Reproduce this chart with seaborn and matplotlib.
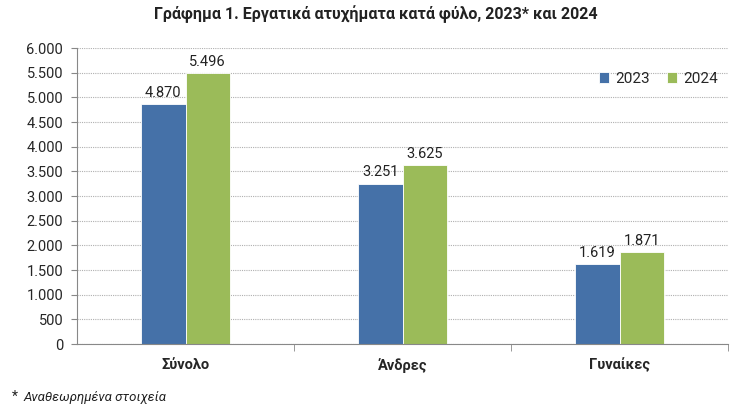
import matplotlib
matplotlib.use("Agg")
import matplotlib.pyplot as plt
import seaborn as sns
import pandas as pd
from matplotlib.ticker import FuncFormatter, FixedLocator

categories = ["Σύνολο", "Άνδρες", "Γυναίκες"]
years = ["2023", "2024"]
values_2023 = [4870, 3251, 1619]
values_2024 = [5496, 3625, 1871]
colors = ["#4571a8", "#9bbb59"]

df = pd.DataFrame({
    "cat": categories * 2,
    "year": [years[0]] * 3 + [years[1]] * 3,
    "val": values_2023 + values_2024,
})

sns.set_style("white")
plt.rcParams["font.family"] = ["Roboto", "DejaVu Sans"]

fig = plt.figure(figsize=(7.52, 4.12), dpi=100)
ax = fig.add_axes([77/752, 1 - 344/412, 651/752, 296/412])

sns.barplot(data=df, x="cat", y="val", hue="year", palette=colors, saturation=1,
            width=0.41, edgecolor="white", linewidth=0.6, ax=ax, legend=True)

fmt = lambda v: f"{int(v):,}".replace(",", ".")
for cont in ax.containers:
    ax.bar_label(cont, labels=[fmt(v) for v in cont.datavalues], padding=3,
                 fontsize=10.5, color="#222222")

ax.set_ylim(0, 6000)
ax.set_yticks(range(0, 6001, 500))
ax.yaxis.set_major_formatter(FuncFormatter(lambda v, p: fmt(v)))
ax.set_xlim(-0.5, 2.5)
ax.grid(axis="y", linestyle=(0, (1, 1)), color="#b0b0b0", linewidth=0.8)
ax.set_axisbelow(True)
for s in ["top", "right"]:
    ax.spines[s].set_visible(False)
ax.spines["left"].set_color("#888888")
ax.spines["bottom"].set_color("#888888")
ax.tick_params(axis="y", length=4, color="#888888", direction="out", left=True, labelsize=10.5, pad=6)
ax.tick_params(axis="x", length=0, labelsize=10.5, pad=10)
for lbl in ax.get_xticklabels():
    lbl.set_fontweight("bold")
ax.xaxis.set_minor_locator(FixedLocator([0.5, 1.5, 2.5]))
ax.tick_params(axis="x", which="minor", length=5, color="#888888", direction="out", bottom=True)
ax.set_xlabel("")
ax.set_ylabel("")

leg = ax.legend(loc="upper left", bbox_to_anchor=(0.78, 0.965), ncol=2, frameon=False,
                fontsize=11, handlelength=0.7, handleheight=0.7, handletextpad=0.4,
                columnspacing=1.1)

fig.text(0.5, 1 - 14/412, "Γράφημα 1. Εργατικά ατυχήματα κατά φύλο, 2023* και 2024",
         ha="center", va="center", fontsize=11.5, fontweight="bold", color="#222222")
fig.text(12/752, 1 - 397/412, "*", ha="left", va="center", fontsize=10, color="#222222")
fig.text(24/752, 1 - 397/412, "Αναθεωρημένα στοιχεία", ha="left", va="center",
         fontsize=9.5, style="italic", color="#222222")

fig.savefig("out.png", dpi=100)
